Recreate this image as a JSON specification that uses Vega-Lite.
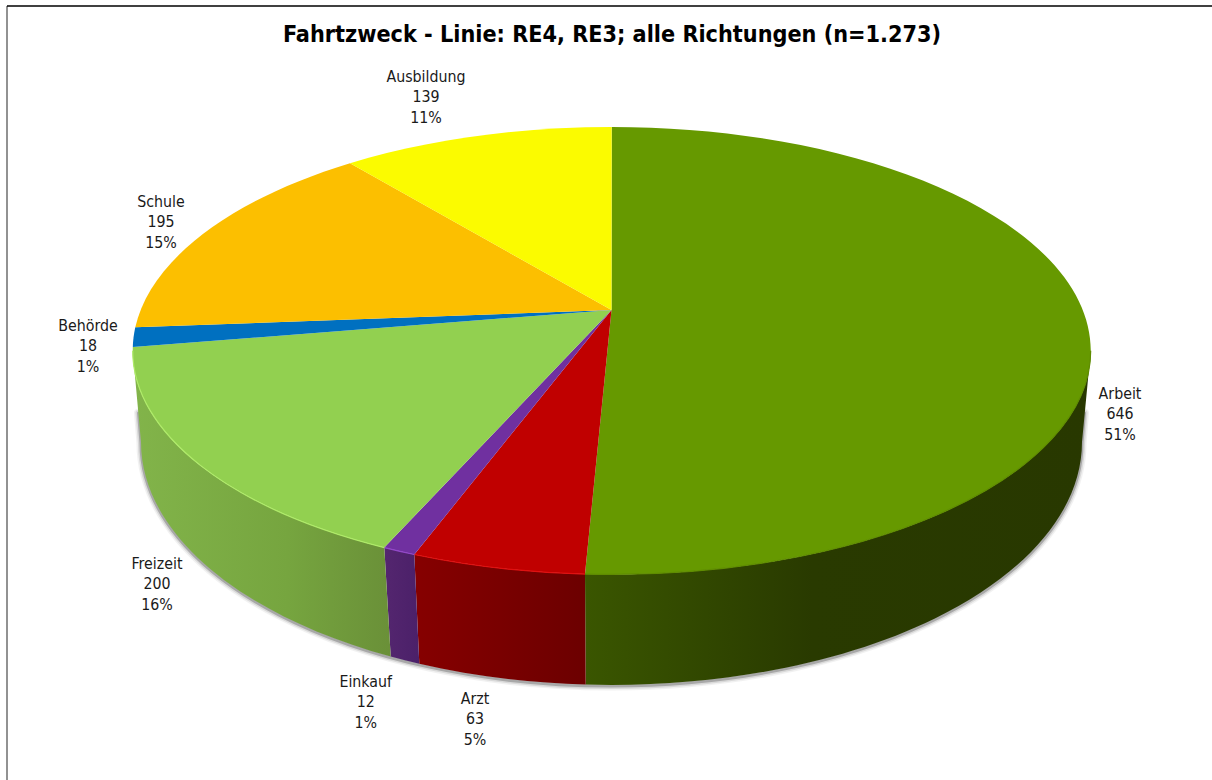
{"$schema":"https://vega.github.io/schema/vega-lite/v6.json","width":1205,"height":774,"autosize":{"type":"none"},"padding":{"left":7,"top":6,"right":0,"bottom":0},"background":"#ffffff","view":{"stroke":null},"title":{"text":"Fahrtzweck - Linie: RE4, RE3; alle Richtungen (n=1.273)","font":"DejaVu Sans Condensed","fontWeight":"bold","fontSize":23.2,"color":"#000000","anchor":"middle","frame":"group","baseline":"alphabetic","offset":-60,"dx":2.5},"data":{"values":[{"zweck":"Arbeit","anzahl":646},{"zweck":"Arzt","anzahl":63},{"zweck":"Einkauf","anzahl":12},{"zweck":"Freizeit","anzahl":200},{"zweck":"Behörde","anzahl":18},{"zweck":"Schule","anzahl":195},{"zweck":"Ausbildung","anzahl":139}]},"layer":[{"data":{"values":[{"rahmen":"links"}]},"mark":{"type":"rule","color":"#6e6e6e","strokeWidth":1.5},"encoding":{"x":{"datum":0,"scale":{"domain":[0,1]},"axis":null}}},{"data":{"values":[{"rahmen":"oben"}]},"mark":{"type":"rule","color":"#000000","strokeWidth":1.5},"encoding":{"y":{"datum":1,"scale":{"domain":[0,1]},"axis":null}}},{"transform":[{"filter":"datum.zweck=='Arbeit'"}],"mark":{"type":"point","filled":false,"stroke":"#808080","strokeWidth":9,"strokeCap":"round","opacity":0.1,"size":4,"shape":"M -471,20 L -468.5,50 A 470.5,243 0 0 0 472.5,50 L 475,20"},"encoding":{}},{"transform":[{"filter":"datum.zweck=='Arbeit'"}],"mark":{"type":"point","filled":false,"stroke":"#707070","strokeWidth":6,"strokeCap":"round","opacity":0.18,"size":4,"shape":"M -471,20 L -468.5,50 A 470.5,243 0 0 0 472.5,50 L 475,20"},"encoding":{}},{"transform":[{"filter":"datum.zweck=='Arbeit'"}],"mark":{"type":"point","filled":false,"stroke":"#606060","strokeWidth":3,"strokeCap":"round","opacity":0.4,"size":4,"shape":"M -471,20 L -468.5,50 A 470.5,243 0 0 0 472.5,50 L 475,20"},"encoding":{}},{"transform":[{"filter":"datum.zweck=='Arbeit'"}],"mark":{"type":"point","filled":true,"opacity":1,"size":4,"fill":{"gradient":"linear","x1":0,"y1":0,"x2":1,"y2":0,"stops":[{"offset":0,"color":"#3a5600"},{"offset":0.45,"color":"#293a00"},{"offset":1,"color":"#283800"}]},"shape":"M -24.5,181.05 A 479,223.7 0 0 0 481.2,-42.3 L 472.5,49 A 470.5,243 0 0 1 -23.8,291.6 Z"},"encoding":{}},{"transform":[{"filter":"datum.zweck=='Arzt'"}],"mark":{"type":"point","filled":true,"opacity":1,"size":4,"fill":{"gradient":"linear","x1":0,"y1":0,"x2":1,"y2":0,"stops":[{"offset":0,"color":"#860000"},{"offset":1,"color":"#6c0000"}]},"shape":"M -24.5,181.05 A 479,223.7 0 0 1 -195.2,161.5 L -190.2,270.8 A 470.5,243 0 0 0 -23.8,291.6 Z"},"encoding":{}},{"transform":[{"filter":"datum.zweck=='Einkauf'"}],"mark":{"type":"point","filled":true,"opacity":1,"size":4,"fill":{"gradient":"linear","x1":0,"y1":0,"x2":1,"y2":0,"stops":[{"offset":0,"color":"#54266f"},{"offset":1,"color":"#4b2069"}]},"shape":"M -195.2,161.5 A 479,223.7 0 0 1 -225.2,154.6 L -218.8,263.6 A 470.5,243 0 0 0 -190.2,270.8 Z"},"encoding":{}},{"transform":[{"filter":"datum.zweck=='Freizeit'"}],"mark":{"type":"point","filled":true,"opacity":1,"size":4,"fill":{"gradient":"linear","x1":0,"y1":0,"x2":1,"y2":0,"stops":[{"offset":0,"color":"#82b44a"},{"offset":0.6,"color":"#76a53f"},{"offset":1,"color":"#6a9038"}]},"shape":"M -225.2,154.6 A 479,223.7 0 0 1 -476.8,-42.3 L -468.5,49 A 470.5,243 0 0 0 -218.8,263.6 Z"},"encoding":{}},{"mark":{"type":"point","filled":true,"opacity":1,"size":4},"encoding":{"shape":{"field":"zweck","type":"nominal","legend":null,"scale":{"domain":["Arbeit","Arzt","Einkauf","Freizeit","Behörde","Schule","Ausbildung"],"range":["M 2,-83 L 2.2,-266 A 479,223.7 0 1 1 -24.5,181.05 Z","M 2,-83 L -24.5,181.05 A 479,223.7 0 0 1 -195.2,161.5 Z","M 2,-83 L -195.2,161.5 A 479,223.7 0 0 1 -225.2,154.6 Z","M 2,-83 L -225.2,154.6 A 479,223.7 0 0 1 -476.7,-46 Z","M 2,-83 L -476.7,-46 A 479,223.7 0 0 1 -474.2,-65.7 Z","M 2,-83 L -474.2,-65.7 A 479,223.7 0 0 1 -259.5,-229.7 Z","M 2,-83 L -259.5,-229.7 A 479,223.7 0 0 1 2.2,-266 Z"]}},"color":{"field":"zweck","type":"nominal","legend":null,"scale":{"domain":["Arbeit","Arzt","Einkauf","Freizeit","Behörde","Schule","Ausbildung"],"range":["#669900","#c00000","#7030a0","#92d050","#0070c0","#fcbf00","#fbfb00"]}}}},{"transform":[{"filter":"datum.zweck=='Arbeit'||datum.zweck=='Arzt'||datum.zweck=='Einkauf'||datum.zweck=='Freizeit'"}],"mark":{"type":"point","filled":false,"opacity":1,"size":4,"strokeWidth":1.2},"encoding":{"shape":{"field":"zweck","type":"nominal","legend":null,"scale":{"domain":["Arbeit","Arzt","Einkauf","Freizeit"],"range":["M 481.2,-42.3 A 479,223.7 0 0 1 -24.5,181.05","M -24.5,181.05 A 479,223.7 0 0 1 -195.2,161.5","M -195.2,161.5 A 479,223.7 0 0 1 -225.2,154.6","M -225.2,154.6 A 479,223.7 0 0 1 -476.8,-42.3"]}},"color":{"field":"zweck","type":"nominal","legend":null,"scale":{"domain":["Arbeit","Arzt","Einkauf","Freizeit"],"range":["#5f8c00","#e01010","#9248c8","#aeea68"]}}}},{"transform":[{"calculate":"datum.zweck+'\\n'+datum.anzahl+'\\n'+format(datum.anzahl/1273,'.0%')","as":"beschriftung"}],"mark":{"type":"text","font":"DejaVu Sans Condensed","fontSize":15.8,"lineBreak":"\n","lineHeight":20.3,"align":"center","baseline":"middle","color":"#1a1a1a"},"encoding":{"text":{"field":"beschriftung","type":"nominal"},"x":{"field":"anzahl","type":"quantitative","axis":null,"scale":{"domain":[12,18,63,139,195,200,646],"range":[358.7,81,468,419,154,150,1113],"zero":false,"nice":false}},"y":{"field":"anzahl","type":"quantitative","axis":null,"scale":{"domain":[12,18,63,139,195,200,646],"range":[676,320,693,71,196,558,388],"zero":false,"nice":false}}}}],"resolve":{"scale":{"x":"independent","y":"independent","shape":"independent","color":"independent"}}}
